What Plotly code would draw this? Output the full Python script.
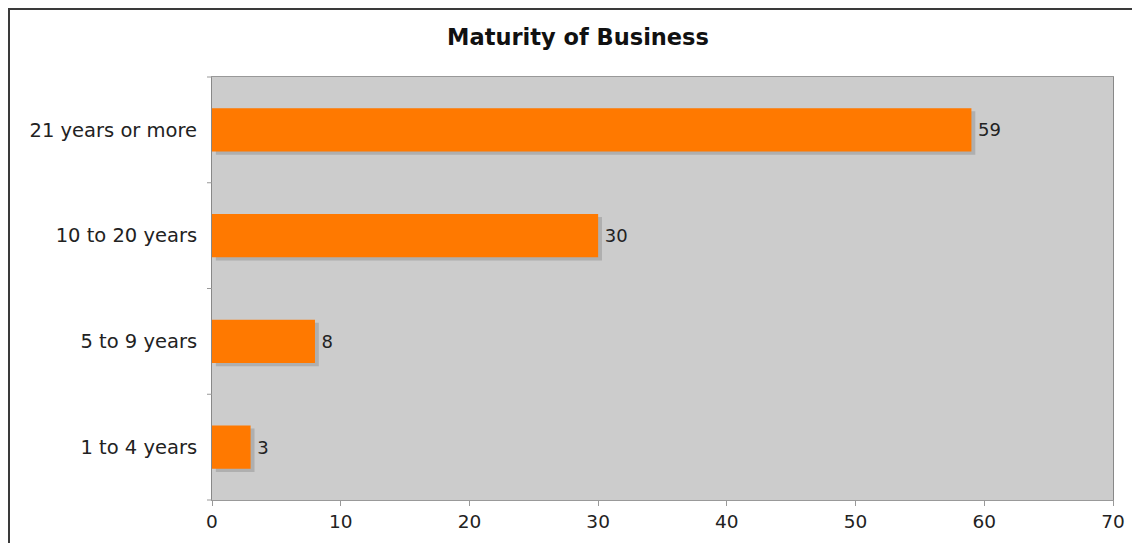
import plotly.graph_objects as go

categories = ["1 to 4 years", "5 to 9 years", "10 to 20 years", "21 years or more"]
values = [3, 8, 30, 59]
x_ticks = [0, 10, 20, 30, 40, 50, 60, 70]

FONT = "DejaVu Sans, Verdana, sans-serif"

# page offset of ~8px (body margin) is compensated for in these margins
L, T = 204, 69
PW, PH = 901, 423

fig = go.Figure()
# soft shadow behind bars (down and to the right)
fig.add_trace(go.Bar(
    y=categories, x=values, orientation="h",
    marker=dict(color="rgba(155,155,155,0.6)", line=dict(width=0)),
    width=0.41, offset=-0.235, base=0.3,
    hoverinfo="skip", showlegend=False,
))
fig.add_trace(go.Bar(
    y=categories, x=values, orientation="h",
    marker=dict(color="#FF7900", line=dict(width=0)),
    width=0.41, offset=-0.205,
    text=[str(v) for v in values], texttemplate="\u2009%{text}",
    textposition="outside",
    textfont=dict(family=FONT, size=18, color="#222222"),
    cliponaxis=False, showlegend=False,
))

fig.update_layout(
    width=1140, height=543,
    margin=dict(l=L, r=1140 - L - PW, t=T, b=543 - T - PH),
    paper_bgcolor="white", plot_bgcolor="#CCCCCC",
    barmode="overlay",
    title=dict(text="<b>Maturity of Business</b>", x=0.5, xref="container",
               y=1 - 29 / 543, yanchor="middle",
               font=dict(family=FONT, size=22.5, color="#111111")),
    font=dict(family=FONT, size=19, color="#222222"),
    xaxis=dict(range=[0, 70], tickvals=x_ticks, showgrid=False, zeroline=False,
               ticks="outside", ticklen=5, tickcolor="#999999",
               showline=True, linecolor="#999999", linewidth=1, mirror=True,
               tickfont=dict(family=FONT, size=18.5, color="#222222")),
    yaxis=dict(showgrid=False, zeroline=False, ticks="", showline=True,
               linecolor="#888888", linewidth=1, mirror=True,
               ticklabelstandoff=10,
               tickfont=dict(family=FONT, size=19.5, color="#222222")),
    bargap=0.59,
    shapes=[
        dict(type="rect", xref="paper", yref="paper",
             x0=(1 - L) / PW, x1=(1150 - L) / PW,
             y0=-(560 - T - PH) / PH, y1=(T + PH - 1) / PH,
             line=dict(color="#3a3a3a", width=2), fillcolor="rgba(0,0,0,0)",
             layer="below"),
    ] + [
        dict(type="line", xref="paper", yref="paper",
             x0=-5 / PW, x1=0, y0=k / 4, y1=k / 4,
             line=dict(color="#999999", width=1))
        for k in range(5)
    ],
)

fig.write_html("out.html")
